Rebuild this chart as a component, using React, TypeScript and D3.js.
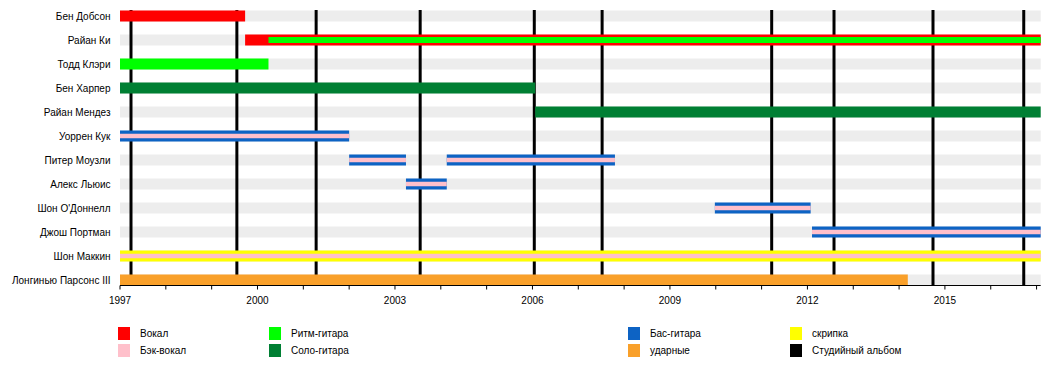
import React from "react";
import * as d3 from "d3";

const members = [
  "Бен Добсон",
  "Райан Ки",
  "Тодд Клэри",
  "Бен Харпер",
  "Райан Мендез",
  "Уоррен Кук",
  "Питер Моузли",
  "Алекс Льюис",
  "Шон О'Доннелл",
  "Джош Портман",
  "Шон Маккин",
  "Лонгинью Парсонс III",
];

const roleIds = ["vocals", "backing", "rhythm", "lead", "bass", "drums", "violin", "album"];
const roleLabels = ["Вокал", "Бэк-вокал", "Ритм-гитара", "Соло-гитара", "Бас-гитара", "ударные", "скрипка", "Студийный альбом"];
const roleColors = ["#ff0000", "#ffc0cb", "#00ff00", "#007f33", "#0d63c4", "#f9a02a", "#ffff00", "#000000"];

// [member, role, start, end]  (main bars)
const mainPeriods: [string, string, number, number][] = [
  ["Бен Добсон", "vocals", 1997.0, 1999.73],
  ["Райан Ки", "vocals", 1999.73, 2017.09],
  ["Тодд Клэри", "rhythm", 1997.0, 2000.24],
  ["Бен Харпер", "lead", 1997.0, 2006.06],
  ["Райан Мендез", "lead", 2006.06, 2017.09],
  ["Уоррен Кук", "bass", 1997.0, 2002.0],
  ["Питер Моузли", "bass", 2002.0, 2003.24],
  ["Питер Моузли", "bass", 2004.13, 2007.8],
  ["Алекс Льюис", "bass", 2003.24, 2004.13],
  ["Шон О'Доннелл", "bass", 2009.98, 2012.07],
  ["Джош Портман", "bass", 2012.1, 2017.09],
  ["Шон Маккин", "violin", 1997.0, 2017.09],
  ["Лонгинью Парсонс III", "drums", 1997.0, 2014.19],
];

// thin overlay bars: [member, role, start, end, thickness]
const overlayPeriods: [string, string, number, number, number][] = [
  ["Райан Ки", "rhythm", 2000.24, 2017.09, 6],
  ["Уоррен Кук", "backing", 1997.0, 2002.0, 4.5],
  ["Питер Моузли", "backing", 2002.0, 2003.24, 4.5],
  ["Питер Моузли", "backing", 2004.13, 2007.8, 4.5],
  ["Алекс Льюис", "backing", 2003.24, 2004.13, 4.5],
  ["Шон О'Доннелл", "backing", 2009.98, 2012.07, 4.5],
  ["Джош Портман", "backing", 2012.1, 2017.09, 4.5],
  ["Шон Маккин", "backing", 1997.0, 2017.09, 4.5],
];

const albums = [1997.24, 1999.55, 2001.28, 2003.55, 2006.04, 2007.52, 2011.22, 2012.58, 2014.74, 2016.72];

const majorTicks = [1997, 2000, 2003, 2006, 2009, 2012, 2015];
const minorTicks = [1998, 1999, 2001, 2002, 2004, 2005, 2007, 2008, 2010, 2011, 2013, 2014, 2016, 2017];

const legendOrder = [
  ["vocals", "backing"],
  ["rhythm", "lead"],
  ["bass", "drums"],
  ["violin", "album"],
];

const FONT = "'Liberation Sans', Arial, sans-serif";

export default function App() {
  const W = 1050;
  const H = 365;
  const x = d3.scaleLinear().domain([1997, 2017.09]).range([120, 1040.7]);
  const y = d3.scaleBand().domain(members).range([4, 292]).paddingInner(0).paddingOuter(0);
  const color = d3.scaleOrdinal<string, string>().domain(roleIds).range(roleColors);
  const label = d3.scaleOrdinal<string, string>().domain(roleIds).range(roleLabels);
  const barH = 11;
  const cy = (m: string) => (y(m) as number) + y.bandwidth() / 2;
  const axisY = 285.5;
  const legendX = d3.scaleOrdinal<number, number>().domain([0, 1, 2, 3]).range([118, 269, 628, 790]);
  const legendY = d3.scaleOrdinal<number, number>().domain([0, 1]).range([327, 344]);

  return (
    <svg
      width={W}
      height={H}
      style={{ position: "absolute", left: 0, top: 0, background: "#fff" }}
      fontFamily={FONT}
    >
      {/* background rows */}
      {members.map((m) => (
        <rect key={"bg" + m} x={x(1997)} y={cy(m) - barH / 2} width={x(2017.09) - x(1997)} height={barH} fill="#ededed" />
      ))}
      {/* album lines */}
      {albums.map((a, i) => (
        <line key={"al" + i} x1={x(a)} x2={x(a)} y1={10} y2={axisY} stroke="#000" strokeWidth={3} />
      ))}
      {/* main bars */}
      {mainPeriods.map(([m, r, s, e], i) => (
        <rect key={"mb" + i} x={x(s)} y={cy(m) - barH / 2} width={x(e) - x(s)} height={barH} fill={color(r)} />
      ))}
      {overlayPeriods.map(([m, r, s, e, t], i) => (
        <rect key={"ob" + i} x={x(s)} y={cy(m) - t / 2} width={x(e) - x(s)} height={t} fill={color(r)} />
      ))}
      {/* member labels */}
      {members.map((m) => (
        <text key={"lb" + m} x={110.5} y={cy(m) + 3.6} textAnchor="end" fontSize={10} fill="#000">
          {m}
        </text>
      ))}
      {/* axis */}
      <line x1={x(1997)} x2={x(2017.09)} y1={axisY} y2={axisY} stroke="#000" strokeWidth={1} />
      {majorTicks.concat(minorTicks).map((t) => (
        <line key={"tk" + t} x1={x(t)} x2={x(t)} y1={axisY} y2={axisY + 4} stroke="#000" strokeWidth={1} />
      ))}
      {majorTicks.map((t) => (
        <text key={"tl" + t} x={x(t)} y={304} textAnchor="middle" fontSize={10} fill="#000">
          {t}
        </text>
      ))}
      {/* legend */}
      {legendOrder.map((col, ci) =>
        col.map((r, ri) => (
          <g key={"lg" + r}>
            <rect x={legendX(ci)} y={legendY(ri)} width={12} height={13} fill={color(r)} />
            <text x={legendX(ci) + 22} y={legendY(ri) + 10} fontSize={10} fill="#000">
              {label(r)}
            </text>
          </g>
        ))
      )}
    </svg>
  );
}
